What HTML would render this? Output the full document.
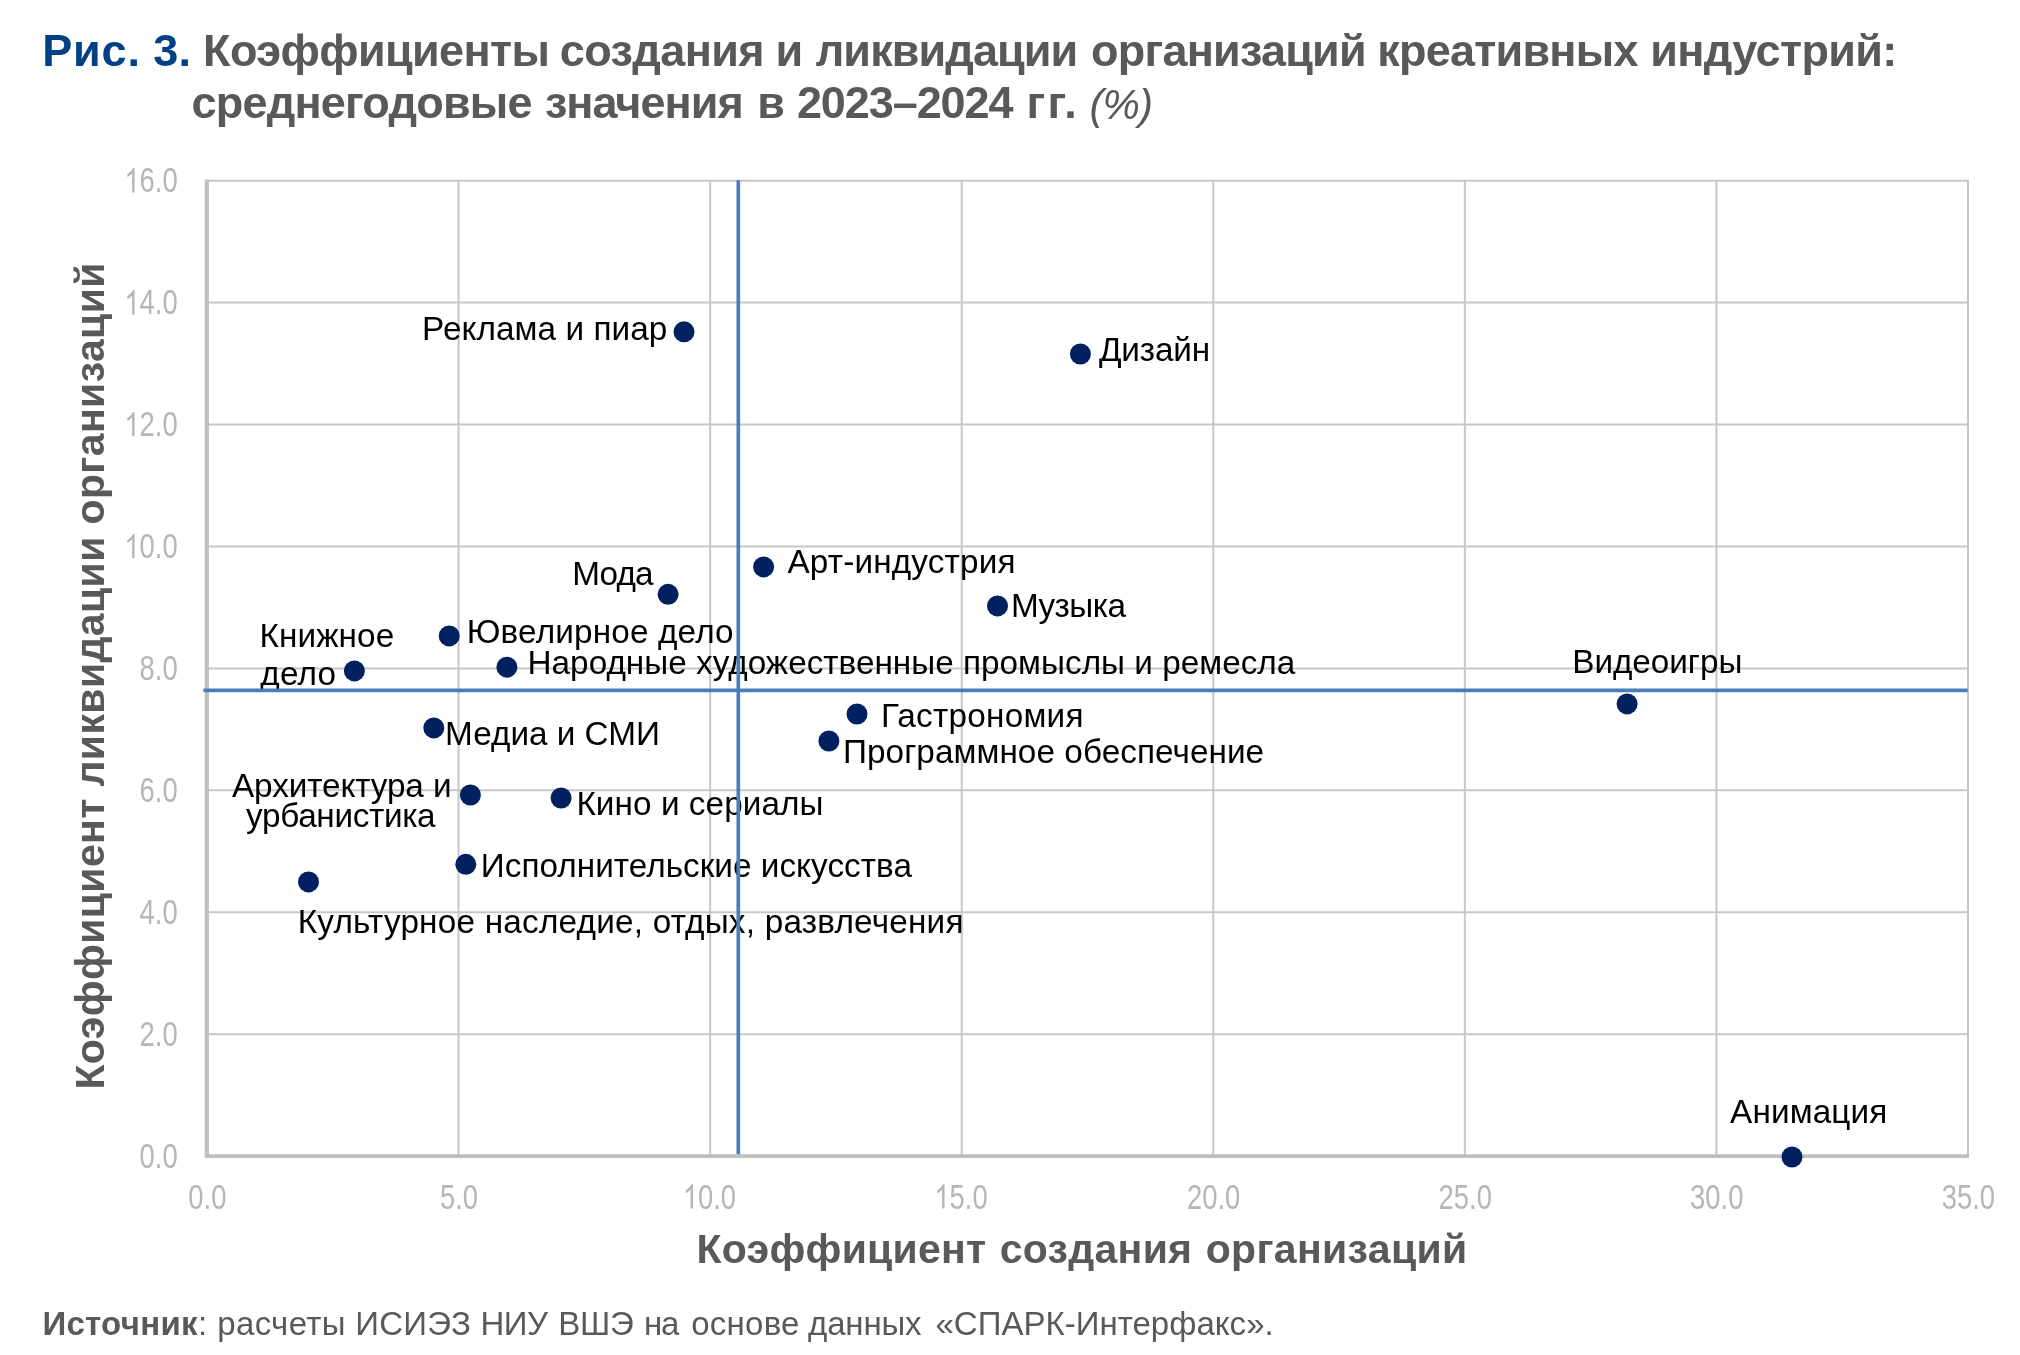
<!DOCTYPE html>
<html lang="ru"><head><meta charset="utf-8"><title>Рис. 3</title>
<style>
html,body{margin:0;padding:0;background:#fff;}
body{width:2020px;height:1355px;overflow:hidden;font-family:"Liberation Sans",sans-serif;}
svg{display:block;will-change:transform;}
svg text{font-family:"Liberation Sans",sans-serif;white-space:pre;}
</style></head><body>
<svg width="2020" height="1355" viewBox="0 0 2020 1355">
<rect width="2020" height="1355" fill="#fff"/>
<g stroke="#C7C7C7" stroke-width="2.0" fill="none">
<line x1="458.57" y1="180.6" x2="458.57" y2="1156.2"/>
<line x1="710.14" y1="180.6" x2="710.14" y2="1156.2"/>
<line x1="961.71" y1="180.6" x2="961.71" y2="1156.2"/>
<line x1="1213.29" y1="180.6" x2="1213.29" y2="1156.2"/>
<line x1="1464.86" y1="180.6" x2="1464.86" y2="1156.2"/>
<line x1="1716.43" y1="180.6" x2="1716.43" y2="1156.2"/>
<line x1="207.0" y1="1034.25" x2="1968.0" y2="1034.25"/>
<line x1="207.0" y1="912.30" x2="1968.0" y2="912.30"/>
<line x1="207.0" y1="790.35" x2="1968.0" y2="790.35"/>
<line x1="207.0" y1="668.40" x2="1968.0" y2="668.40"/>
<line x1="207.0" y1="546.45" x2="1968.0" y2="546.45"/>
<line x1="207.0" y1="424.50" x2="1968.0" y2="424.50"/>
<line x1="207.0" y1="302.55" x2="1968.0" y2="302.55"/>
</g>
<path d="M206.00 180.80 H1968.0 V1156.2" stroke="#C7C7C7" stroke-width="2" fill="none" stroke-linejoin="miter"/>
<path d="M206.8 179.60 V1156.2" stroke="#BFBFBF" stroke-width="4.2" fill="none"/>
<path d="M204.7 1156.2 H1969.00" stroke="#BFBFBF" stroke-width="3.8" fill="none"/>
<g font-size="35.4" fill="#B6B6B6">
<g transform="translate(177.73 1168.05) scale(0.775 1)"><text text-anchor="end">0.0</text></g>
<g transform="translate(177.73 1046.10) scale(0.775 1)"><text text-anchor="end">2.0</text></g>
<g transform="translate(177.73 924.15) scale(0.775 1)"><text text-anchor="end">4.0</text></g>
<g transform="translate(177.73 802.20) scale(0.775 1)"><text text-anchor="end">6.0</text></g>
<g transform="translate(177.73 680.25) scale(0.775 1)"><text text-anchor="end">8.0</text></g>
<g transform="translate(177.73 558.30) scale(0.775 1)"><path transform="translate(-68.89 0) scale(0.017285 -0.016545)" d="M763 0H583V1147Q518 1085 412.5 1023Q307 961 223 930V1104Q374 1175 487 1276Q600 1377 647 1472H763Z"/><text text-anchor="end">0.0</text></g>
<g transform="translate(177.73 436.35) scale(0.775 1)"><path transform="translate(-68.89 0) scale(0.017285 -0.016545)" d="M763 0H583V1147Q518 1085 412.5 1023Q307 961 223 930V1104Q374 1175 487 1276Q600 1377 647 1472H763Z"/><text text-anchor="end">2.0</text></g>
<g transform="translate(177.73 314.40) scale(0.775 1)"><path transform="translate(-68.89 0) scale(0.017285 -0.016545)" d="M763 0H583V1147Q518 1085 412.5 1023Q307 961 223 930V1104Q374 1175 487 1276Q600 1377 647 1472H763Z"/><text text-anchor="end">4.0</text></g>
<g transform="translate(177.73 192.45) scale(0.775 1)"><path transform="translate(-68.89 0) scale(0.017285 -0.016545)" d="M763 0H583V1147Q518 1085 412.5 1023Q307 961 223 930V1104Q374 1175 487 1276Q600 1377 647 1472H763Z"/><text text-anchor="end">6.0</text></g>
<g transform="translate(188.31 1208.6) scale(0.775 1)"><text>0.0</text></g>
<g transform="translate(439.88 1208.6) scale(0.775 1)"><text>5.0</text></g>
<g transform="translate(682.72 1208.6) scale(0.775 1)"><path transform="translate(0.00 0) scale(0.017285 -0.016545)" d="M763 0H583V1147Q518 1085 412.5 1023Q307 961 223 930V1104Q374 1175 487 1276Q600 1377 647 1472H763Z"/><text x="19.69">0.0</text></g>
<g transform="translate(934.29 1208.6) scale(0.775 1)"><path transform="translate(0.00 0) scale(0.017285 -0.016545)" d="M763 0H583V1147Q518 1085 412.5 1023Q307 961 223 930V1104Q374 1175 487 1276Q600 1377 647 1472H763Z"/><text x="19.69">5.0</text></g>
<g transform="translate(1186.97 1208.6) scale(0.775 1)"><text>20.0</text></g>
<g transform="translate(1438.54 1208.6) scale(0.775 1)"><text>25.0</text></g>
<g transform="translate(1690.11 1208.6) scale(0.775 1)"><text>30.0</text></g>
<g transform="translate(1941.69 1208.6) scale(0.775 1)"><text>35.0</text></g>
</g>
<g fill="#002060">
<circle cx="684.0" cy="331.8" r="10.5"/>
<circle cx="1080.4" cy="354.0" r="10.5"/>
<circle cx="763.6" cy="566.9" r="10.5"/>
<circle cx="668.1" cy="594.3" r="10.5"/>
<circle cx="997.5" cy="605.9" r="10.5"/>
<circle cx="449.2" cy="635.9" r="10.5"/>
<circle cx="354.4" cy="670.9" r="10.5"/>
<circle cx="506.9" cy="667.2" r="10.5"/>
<circle cx="1627.1" cy="703.9" r="10.5"/>
<circle cx="857.0" cy="714.0" r="10.5"/>
<circle cx="433.8" cy="727.9" r="10.5"/>
<circle cx="828.9" cy="741.0" r="10.5"/>
<circle cx="470.4" cy="795.0" r="10.5"/>
<circle cx="561.1" cy="798.0" r="10.5"/>
<circle cx="465.8" cy="864.3" r="10.5"/>
<circle cx="308.5" cy="881.9" r="10.5"/>
<circle cx="1792.0" cy="1157.0" r="10.5"/>
</g>
<g>
<text x="422.10" y="339.70" font-size="33.3" font-weight="normal" font-style="normal" fill="#000" letter-spacing="0.068">Реклама и пиар</text>
<text x="1098.90" y="360.50" font-size="33.3" font-weight="normal" font-style="normal" fill="#000" letter-spacing="-0.127">Дизайн</text>
<text x="787.50" y="573.20" font-size="33.3" font-weight="normal" font-style="normal" fill="#000" letter-spacing="0.155">Арт-индустрия</text>
<text x="572.20" y="584.60" font-size="33.3" font-weight="normal" font-style="normal" fill="#000" letter-spacing="-0.809">Мода</text>
<text x="1011.00" y="617.00" font-size="33.3" font-weight="normal" font-style="normal" fill="#000" letter-spacing="-0.571">Музыка</text>
<text x="466.80" y="643.20" font-size="33.3" font-weight="normal" font-style="normal" fill="#000" letter-spacing="0.159">Ювелирное дело</text>
<text x="259.40" y="647.30" font-size="33.3" font-weight="normal" font-style="normal" fill="#000" letter-spacing="0.123">Книжное</text>
<text x="260.30" y="684.50" font-size="33.3" font-weight="normal" font-style="normal" fill="#000" letter-spacing="0.185">дело</text>
<text x="527.50" y="674.40" font-size="33.3" font-weight="normal" font-style="normal" fill="#000" letter-spacing="0.015">Народные художественные промыслы и ремесла</text>
<text x="1572.30" y="673.30" font-size="33.3" font-weight="normal" font-style="normal" fill="#000" letter-spacing="-0.054">Видеоигры</text>
<text x="880.90" y="727.00" font-size="33.3" font-weight="normal" font-style="normal" fill="#000" letter-spacing="0.249">Гастрономия</text>
<text x="445.10" y="745.30" font-size="33.3" font-weight="normal" font-style="normal" fill="#000" letter-spacing="-0.005">Медиа и СМИ</text>
<text x="843.00" y="763.10" font-size="33.3" font-weight="normal" font-style="normal" fill="#000" letter-spacing="0.060">Программное обеспечение</text>
<text x="232.00" y="797.00" font-size="33.3" font-weight="normal" font-style="normal" fill="#000" letter-spacing="-0.102">Архитектура и</text>
<text x="246.10" y="826.60" font-size="33.3" font-weight="normal" font-style="normal" fill="#000" letter-spacing="-0.340">урбанистика</text>
<text x="576.40" y="815.30" font-size="33.3" font-weight="normal" font-style="normal" fill="#000" letter-spacing="0.067">Кино и сериалы</text>
<text x="480.80" y="877.40" font-size="33.3" font-weight="normal" font-style="normal" fill="#000" letter-spacing="0.034">Исполнительские искусства</text>
<text x="297.70" y="933.10" font-size="33.3" font-weight="normal" font-style="normal" fill="#000" letter-spacing="0.219">Культурное наследие, отдых, развлечения</text>
<text x="1730.10" y="1123.40" font-size="33.3" font-weight="normal" font-style="normal" fill="#000" letter-spacing="0.132">Анимация</text>
</g>
<line x1="738.3" y1="180.2" x2="738.3" y2="1154.30" stroke="#4A7EBB" stroke-width="3.7"/>
<path d="M204.5 688.45 H1967.7 V692.15 H204.5 Q203.3 692.15 203.3 690.95 V689.65 Q203.3 688.45 204.5 688.45 Z" fill="#4A7EBB"/>
<text x="42.30" y="66.00" font-size="45" font-weight="bold" font-style="normal" fill="#004085" letter-spacing="0.798">Рис.</text>
<text x="153.30" y="66.00" font-size="45" font-weight="bold" font-style="normal" fill="#004085" letter-spacing="0.073">3.</text>
<text x="203.10" y="66.30" font-size="45" font-weight="bold" font-style="normal" fill="#595959" letter-spacing="-0.627">Коэффициенты</text>
<text x="559.80" y="66.30" font-size="45" font-weight="bold" font-style="normal" fill="#595959" letter-spacing="-0.604">создания</text>
<text x="775.60" y="66.30" font-size="45" font-weight="bold" font-style="normal" fill="#595959" letter-spacing="0.000">и</text>
<text x="815.70" y="66.30" font-size="45" font-weight="bold" font-style="normal" fill="#595959" letter-spacing="-0.902">ликвидации</text>
<text x="1091.00" y="66.30" font-size="45" font-weight="bold" font-style="normal" fill="#595959" letter-spacing="-0.772">организаций</text>
<text x="1377.30" y="66.30" font-size="45" font-weight="bold" font-style="normal" fill="#595959" letter-spacing="-0.771">креативных</text>
<text x="1650.30" y="66.30" font-size="45" font-weight="bold" font-style="normal" fill="#595959" letter-spacing="-0.638">индустрий:</text>
<text x="191.50" y="118.00" font-size="45" font-weight="bold" font-style="normal" fill="#595959" letter-spacing="-0.800">среднегодовые</text>
<text x="544.90" y="118.00" font-size="45" font-weight="bold" font-style="normal" fill="#595959" letter-spacing="-0.993">значения</text>
<text x="757.20" y="118.00" font-size="45" font-weight="bold" font-style="normal" fill="#595959" letter-spacing="0.000">в</text>
<text x="796.90" y="118.00" font-size="45" font-weight="bold" font-style="normal" fill="#595959" letter-spacing="-1.077">2023–2024</text>
<text x="1026.40" y="118.00" font-size="45" font-weight="bold" font-style="normal" fill="#595959" letter-spacing="2.410">гг.</text>
<text x="1089.60" y="119.20" font-size="42" font-weight="normal" font-style="italic" fill="#595959" letter-spacing="-1.016">(%)</text>
<text x="696.60" y="1263.40" font-size="41" font-weight="bold" font-style="normal" fill="#595959" letter-spacing="0.230">Коэффициент</text>
<text x="999.80" y="1263.40" font-size="41" font-weight="bold" font-style="normal" fill="#595959" letter-spacing="0.260">создания</text>
<text x="1205.70" y="1263.40" font-size="41" font-weight="bold" font-style="normal" fill="#595959" letter-spacing="0.331">организаций</text>
<text x="-2.00" y="0.00" font-size="41" font-weight="bold" font-style="normal" fill="#595959" letter-spacing="0.371" transform="translate(103.6 1087.6) rotate(-90)">Коэффициент ликвидации организаций</text>
<text x="42.40" y="1335.20" font-size="33" font-weight="bold" font-style="normal" fill="#595959" letter-spacing="0.298">Источник</text>
<text x="197.90" y="1335.20" font-size="33" font-weight="normal" font-style="normal" fill="#595959" letter-spacing="0.000">:</text>
<text x="217.20" y="1335.20" font-size="33" font-weight="normal" font-style="normal" fill="#595959" letter-spacing="0.367">расчеты</text>
<text x="355.30" y="1335.20" font-size="33" font-weight="normal" font-style="normal" fill="#595959" letter-spacing="0.246">ИСИЭЗ</text>
<text x="480.50" y="1335.20" font-size="33" font-weight="normal" font-style="normal" fill="#595959" letter-spacing="-0.475">НИУ</text>
<text x="558.30" y="1335.20" font-size="33" font-weight="normal" font-style="normal" fill="#595959" letter-spacing="-0.228">ВШЭ</text>
<text x="643.90" y="1335.20" font-size="33" font-weight="normal" font-style="normal" fill="#595959" letter-spacing="-1.124">на</text>
<text x="691.20" y="1335.20" font-size="33" font-weight="normal" font-style="normal" fill="#595959" letter-spacing="0.262">основе</text>
<text x="808.10" y="1335.20" font-size="33" font-weight="normal" font-style="normal" fill="#595959" letter-spacing="-0.175">данных</text>
<text x="935.50" y="1335.20" font-size="33" font-weight="normal" font-style="normal" fill="#595959" letter-spacing="0.018">«СПАРК-Интерфакс».</text>
</svg></body></html>
